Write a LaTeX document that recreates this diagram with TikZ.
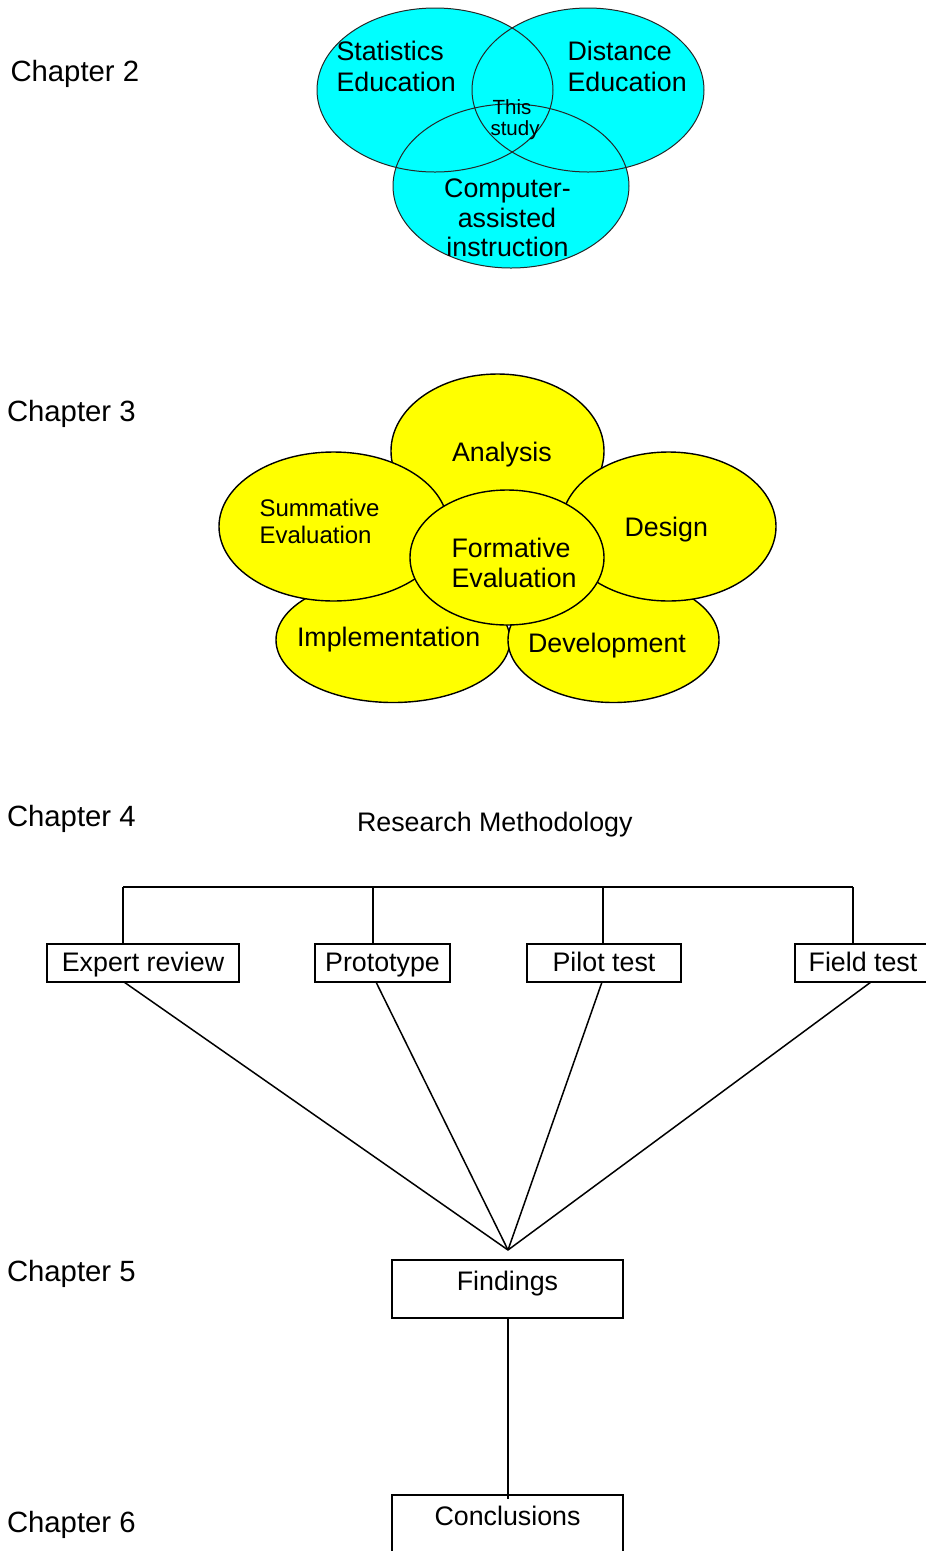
\documentclass[tikz,border=0pt]{standalone}
\usepackage{fontspec}
\setmainfont{Liberation Sans}
\usetikzlibrary{shapes.geometric}
\definecolor{venncyan}{RGB}{0,255,255}
\definecolor{petalyellow}{RGB}{255,255,0}
\newcommand\chapfs{\fontsize{29.3pt}{34pt}\selectfont}
\newcommand\mainfs{\fontsize{26.8pt}{31pt}\selectfont}
\newcommand\vennfs{\fontsize{26.8pt}{31pt}\selectfont}
\newcommand\sumfs{\fontsize{24pt}{28pt}\selectfont}
\newcommand\tinyfs{\fontsize{20.5pt}{24pt}\selectfont}
\begin{document}
\begin{tikzpicture}[x=1pt,y=-1pt,
  lbl/.style={inner sep=0pt, outer sep=0pt, anchor=base west},
  clbl/.style={inner sep=0pt, outer sep=0pt, anchor=base},
  vennfill/.style={ellipse, fill=venncyan, inner sep=0pt, outer sep=0pt},
  vennline/.style={draw=black!85, line width=1pt},
  petal/.style={ellipse, fill=petalyellow, draw=black, line width=1.4pt, inner sep=0pt, outer sep=0pt},
  stagebox/.style={draw=black, line width=1.5pt, inner sep=0pt, outer sep=0pt, anchor=base, font=\mainfs, text height=27pt, text depth=11pt},
  bigbox/.style={draw=black, line width=1.5pt, inner sep=0pt, outer sep=0pt, anchor=base, font=\mainfs, minimum width=231pt, text height=30pt},
  conn/.style={draw=black, line width=1.5pt}
]
\useasboundingbox (0,0) rectangle (926,1551);
\clip (0,0) rectangle (926,1551);
\fill[white] (0,0) rectangle (926,1551);

% chapter labels
\node[lbl, font=\chapfs] (ch2) at (10.5,81) {Chapter 2};
\node[lbl, font=\chapfs] (ch3) at (7,421) {Chapter 3};
\node[lbl, font=\chapfs] (ch4) at (7,826) {Chapter 4};
\node[lbl, font=\chapfs] (ch5) at (7,1281) {Chapter 5};
\node[lbl, font=\chapfs] (ch6) at (7,1532) {Chapter 6};

% Venn diagram
\node[vennfill, minimum width=236pt, minimum height=164pt] (stat) at (435,90) {};
\node[vennfill, minimum width=232pt, minimum height=164pt] (dist) at (588,90) {};
\node[vennfill, minimum width=236pt, minimum height=164pt] (cai) at (511,186) {};
\draw[vennline] (stat.center) ellipse [x radius=118pt, y radius=82pt];
\draw[vennline] (dist.center) ellipse [x radius=116pt, y radius=82pt];
\draw[vennline] (cai.center) ellipse [x radius=118pt, y radius=82pt];

\node[lbl, font=\vennfs] (stat1) at (336.5,60) {Statistics};
\node[lbl, font=\vennfs] (stat2) at (336.5,91.5) {Education};
\node[lbl, font=\vennfs] (dist1) at (567.5,60) {Distance};
\node[lbl, font=\vennfs] (dist2) at (567.5,91.5) {Education};
\node[clbl, font=\tinyfs] (this1) at (512,114) {This};
\node[clbl, font=\tinyfs] (this2) at (515,135) {study};
\node[clbl, font=\vennfs] (cai1) at (507.5,197) {Computer-};
\node[clbl, font=\vennfs] (cai2) at (507,227) {assisted};
\node[clbl, font=\vennfs] (cai3) at (507.5,256) {instruction};

% Flower of ADDIE phases
\node[petal, minimum width=213pt, minimum height=154pt] (ana) at (497.5,451) {};
\node[petal, minimum width=234pt, minimum height=125pt] (imp) at (393,640) {};
\node[petal, minimum width=211pt, minimum height=125pt] (dev) at (613.5,640) {};
\node[petal, minimum width=229pt, minimum height=149pt] (sum) at (333.5,526.5) {};
\node[petal, minimum width=215pt, minimum height=149pt] (des) at (668.5,526.5) {};
\node[petal, minimum width=194pt, minimum height=135pt] (form) at (507,557.5) {};

\node[lbl, font=\mainfs] (anat) at (452,461) {Analysis};
\node[lbl, font=\sumfs] (sum1) at (259.5,516) {Summative};
\node[lbl, font=\sumfs] (sum2) at (259.5,543) {Evaluation};
\node[lbl, font=\mainfs] (dest) at (624.5,536) {Design};
\node[lbl, font=\mainfs] (form1) at (451.5,557) {Formative};
\node[lbl, font=\mainfs] (form2) at (451.5,587) {Evaluation};
\node[lbl, font=\mainfs] (impt) at (297,646) {Implementation};
\node[lbl, font=\mainfs] (devt) at (528,652) {Development};

% Research methodology
\node[lbl, font=\mainfs] (rm) at (357,831) {Research Methodology};

\node[stagebox, minimum width=192pt] (exp) at (143,971) {Expert review};
\node[stagebox, minimum width=135pt] (proto) at (382.5,971) {Prototype};
\node[stagebox, minimum width=154pt] (pilot) at (604,971) {Pilot test};
\node[stagebox, minimum width=136pt] (field) at (863,971) {Field test};

\coordinate (barL) at (123,887);
\coordinate (barR) at (853,887);
\draw[conn] (barL) -- (barR);
\draw[conn] ([xshift=-20pt]exp.north) -- ([xshift=-20pt]exp.north |- barL);
\draw[conn] ([xshift=-9.5pt]proto.north) -- ([xshift=-9.5pt]proto.north |- barL);
\draw[conn] ([xshift=-1pt]pilot.north) -- ([xshift=-1pt]pilot.north |- barL);
\draw[conn] ([xshift=-10pt]field.north) -- ([xshift=-10pt]field.north |- barL);

\coordinate (apex) at (508,1250);
\draw[conn] ([xshift=-19pt]exp.south) -- (apex);
\draw[conn] ([xshift=-6.5pt]proto.south) -- (apex);
\draw[conn] ([xshift=-2pt]pilot.south) -- (apex);
\draw[conn] ([xshift=8pt]field.south) -- (apex);

\node[bigbox, text depth=28pt] (find) at (507.5,1290) {Findings};
\node[bigbox, text depth=50pt] (concl) at (507.5,1525) {Conclusions};
\draw[conn] ([xshift=0.5pt]find.south) -- ([xshift=0.5pt,yshift=-4pt]concl.north);
\end{tikzpicture}
\end{document}
